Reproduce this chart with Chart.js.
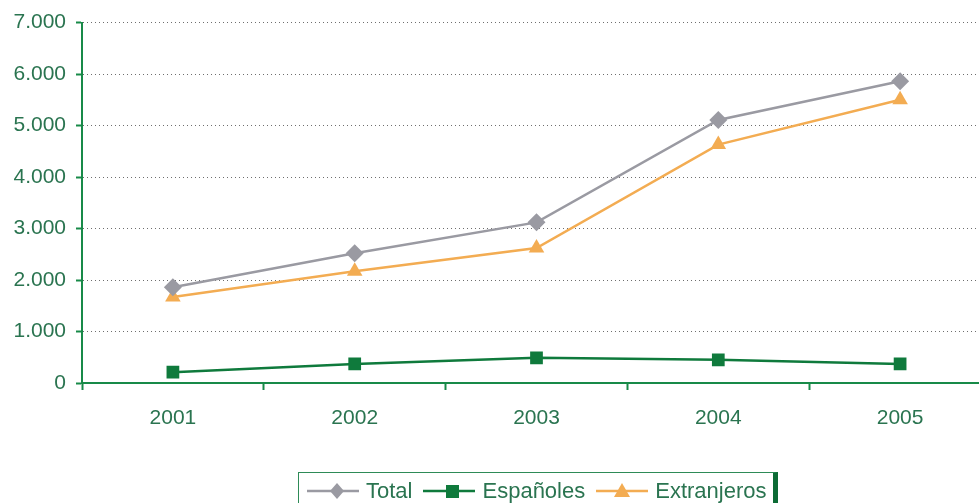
<!DOCTYPE html>
<html>
<head>
<meta charset="utf-8">
<script src="https://cdn.jsdelivr.net/npm/chart.js@4.4.1/dist/chart.umd.min.js"></script>
<style>
  html, body { margin: 0; padding: 0; background: #fff; overflow: hidden; }
  #wrap { position: relative; width: 1000px; height: 503px; }
  #legend {
    position: absolute; left: 298px; top: 472px; width: 480px; height: 40px;
    border: 1px solid #2e8b57; border-right: 5px solid #0c6b35;
    font-family: "Liberation Sans", Arial, sans-serif; font-size: 22px; color: #2a7450;
    display: flex; align-items: flex-start; padding-top: 5px; padding-left: 8px; box-sizing: border-box;
  }
  .item { display: flex; align-items: center; margin-right: 11px; white-space: nowrap; }
  .item svg { margin-right: 7px; }
</style>
</head>
<body>
<div id="wrap">
  <canvas id="chartCanvas" width="1000" height="503"></canvas>
  <div id="legend"></div>
</div>
<script>
const years = ['2001', '2002', '2003', '2004', '2005'];
const total = [1860, 2520, 3120, 5110, 5860];
const espanoles = [210, 370, 490, 450, 370];
const extranjeros = [1670, 2170, 2620, 4630, 5500];

const textColor = "#2a7450";
const axisColor = "#188a48";

function fmt(v) {
  return String(v).replace(/\B(?=(\d{3})+(?!\d))/g, ".");
}

const series = [
  { label: "Total", data: total, color: "#9a9aa2", point: "rectRot", radius: 9, marker: "diamond" },
  { label: "Españoles", data: espanoles, color: "#0f7a3c", point: "rect", radius: 9, marker: "square" },
  { label: "Extranjeros", data: extranjeros, color: "#f3ac52", point: "triangle", radius: 9, marker: "triangle" }
];

const ctx = document.getElementById("chartCanvas").getContext("2d");
const myChart = new Chart(ctx, {
  type: "line",
  data: {
    labels: years,
    datasets: series.map(s => ({
      label: s.label,
      data: s.data,
      borderColor: s.color,
      backgroundColor: s.color,
      borderWidth: 2.5,
      pointStyle: s.point,
      pointRadius: s.radius,
      pointBorderWidth: 0,
      tension: 0
    }))
  },
  options: {
    responsive: false,
    animation: false,
    layout: { padding: { top: 22, right: 7, bottom: 70, left: 0 } },
    plugins: { legend: { display: false }, tooltip: { enabled: false } },
    scales: {
      x: {
        offset: true,
        border: { color: axisColor, width: 2 },
        grid: { display: true, offset: true, drawOnChartArea: false, drawTicks: true, tickLength: 7, tickColor: axisColor, tickWidth: 2 },
        ticks: { color: textColor, padding: 16, font: { family: "Liberation Sans", size: 21 } },
        afterFit: (scale) => { scale.height = 50; }
      },
      y: {
        min: 0,
        max: 7000,
        border: { color: axisColor, width: 2, dash: [1, 3] },
        grid: { color: "#6e6e6e", lineWidth: 1, tickLength: 6, tickColor: axisColor, tickWidth: 2, tickBorderDash: [] },
        ticks: { stepSize: 1000, color: textColor, padding: 10, font: { family: "Liberation Sans", size: 21 }, callback: v => fmt(v) },
        afterFit: (scale) => { scale.width = 82; }
      }
    }
  }
});

// legend with line + marker like the original
const legend = document.getElementById("legend");
series.forEach(s => {
  let mark = "";
  if (s.marker === "diamond") mark = '<polygon points="30,2 37,10 30,18 23,10" fill="' + s.color + '"/>';
  if (s.marker === "square") mark = '<rect x="23" y="4" width="13" height="13" fill="' + s.color + '"/>';
  if (s.marker === "triangle") mark = '<polygon points="26,2 34,16 18,16" fill="' + s.color + '"/>';
  const item = document.createElement("span");
  item.className = "item";
  item.innerHTML = '<svg width="52" height="20"><line x1="0" y1="10" x2="52" y2="10" stroke="' + s.color + '" stroke-width="2.5"/>' + mark + '</svg>' + s.label;
  legend.appendChild(item);
});
</script>
</body>
</html>
